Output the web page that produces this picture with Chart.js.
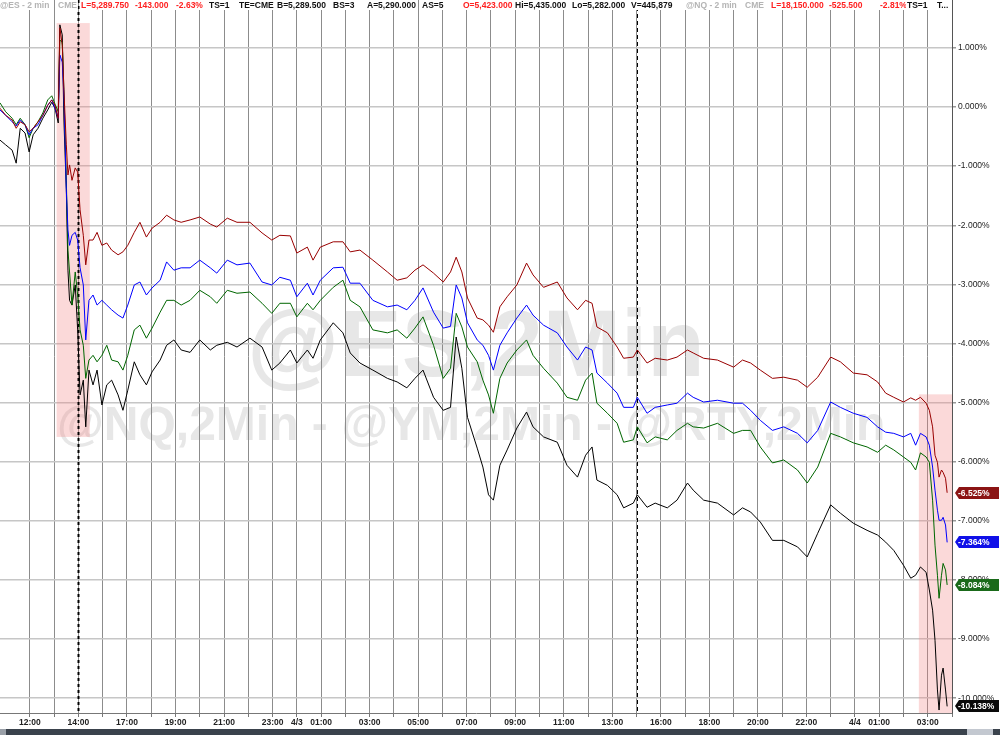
<!DOCTYPE html>
<html>
<head>
<meta charset="utf-8">
<script src="https://cdn.jsdelivr.net/npm/chart.js@4.4.1/dist/chart.umd.min.js"></script>
<style>
  html, body { margin: 0; padding: 0; background: #fff; }
  #wrap { width: 1000px; height: 735px; }
</style>
</head>
<body>
<div id="wrap"><canvas id="chart" width="1000" height="735"></canvas></div>
<script>
// --- data: 2-min bars counted from 12:00 on day one, values in % change ---
const bars = [-37,-30,-22,-17,-12,-6,-1,4,10,16,22,27,31,35,37,40,42,45,47,49,52,56,59,62,66,69,73,78,83,89,95,101,109,115,121,129,136,144,151,161,169,178,187,198,210,
  223,231,244,256,272,287,299,309,322,330,343,350,359,375,387,396,408,424,442,454,466,476,486,499,511,520,527,534,541,553,560,567,573,581,590,602,614,622,635,652,664,677,687,695,701,714,726,734,746,751,763,773,788,800,813,820,833,850,870,881,891,903,918,932,949,961,974,990,1002,1018,1035,1048,1058,1068,1080,1089,1095,1101,1108,1112,1116,1119,1122,1124,1127,1129,1132,1134];

const ymPct = [-0.02,-0.14,-0.22,-0.36,-0.25,-0.30,-0.42,-0.36,-0.25,-0.14,0.03,0.12,0.03,-0.19,1.34,1.05,0.29,-0.64,-1.15,-0.98,-1.24,-1.03,-1.10,-1.74,-2.17,-2.67,-2.25,-2.25,-2.12,-2.34,-2.30,-2.42,-2.50,-2.45,-2.34,-2.12,-1.95,-2.20,-2.05,-1.95,-1.83,-1.91,-1.95,-1.91,-1.86,
  -1.98,-2.03,-1.88,-1.95,-1.95,-2.13,-2.25,-2.17,-2.18,-2.47,-2.37,-2.59,-2.37,-2.28,-2.28,-2.45,-2.42,-2.59,-2.79,-2.93,-2.89,-2.76,-2.67,-2.81,-2.96,-2.79,-2.54,-2.79,-3.23,-3.57,-3.60,-3.69,-3.81,-3.38,-3.21,-3.01,-2.64,-2.84,-3.05,-2.96,-3.23,-3.43,-3.27,-3.32,-3.72,-3.82,-4.06,-4.25,-4.23,-4.11,-4.33,-4.25,-4.28,-4.23,-4.11,-4.16,-4.25,-4.28,-4.40,-4.28,-4.33,-4.45,-4.59,-4.57,-4.62,-4.74,-4.57,-4.23,-4.31,-4.50,-4.53,-4.65,-4.84,-4.91,-4.99,-4.92,-4.96,-4.91,-5.01,-5.13,-5.41,-5.89,-6.01,-6.26,-6.14,-6.18,-6.28,-6.525];

const esPct = [-0.05,-0.14,-0.25,-0.32,-0.22,-0.30,-0.47,-0.36,-0.30,-0.14,0.03,0.12,-0.02,-0.19,0.88,0.76,0.20,-1.40,-2.08,-2.34,-2.17,-2.12,-2.25,-2.72,-3.01,-3.94,-3.27,-3.18,-3.35,-3.27,-3.35,-3.43,-3.52,-3.57,-3.35,-3.01,-2.96,-3.18,-3.06,-2.93,-2.62,-2.76,-2.72,-2.72,-2.59,
  -2.72,-2.81,-2.59,-2.67,-2.64,-2.96,-3.01,-2.88,-2.93,-3.21,-2.98,-3.18,-2.93,-2.72,-2.71,-2.98,-2.98,-3.27,-3.38,-3.35,-3.43,-3.27,-3.06,-3.47,-3.74,-3.71,-3.01,-3.23,-3.65,-3.94,-4.03,-4.20,-4.45,-4.03,-3.82,-3.57,-3.35,-3.52,-3.69,-3.82,-4.06,-4.28,-4.06,-4.11,-4.50,-4.67,-4.84,-5.08,-5.08,-4.91,-5.18,-5.08,-5.04,-5.01,-4.84,-4.91,-4.99,-4.96,-5.01,-5.01,-5.13,-5.30,-5.47,-5.41,-5.52,-5.68,-5.47,-4.99,-5.08,-5.18,-5.25,-5.41,-5.50,-5.52,-5.58,-5.52,-5.72,-5.52,-5.58,-5.72,-6.09,-6.48,-6.82,-6.99,-6.99,-6.94,-7.07,-7.364];

const nqPct = [0.07,-0.08,-0.19,-0.30,-0.19,-0.30,-0.52,-0.36,-0.25,-0.10,0.12,0.19,0.05,-0.08,1.13,1.10,0.29,-1.24,-2.42,-2.79,-3.35,-2.79,-3.18,-3.77,-4.03,-4.59,-4.28,-4.20,-4.31,-4.20,-4.03,-4.28,-4.31,-4.45,-4.20,-3.77,-3.69,-3.91,-3.74,-3.47,-3.27,-3.27,-3.35,-3.27,-3.10,
  -3.21,-3.32,-3.10,-3.15,-3.13,-3.32,-3.49,-3.32,-3.32,-3.55,-3.32,-3.43,-3.27,-3.05,-2.93,-3.27,-3.38,-3.77,-3.82,-3.77,-3.91,-3.74,-3.55,-4.03,-4.59,-4.42,-3.49,-3.72,-4.06,-4.31,-4.62,-4.87,-5.18,-4.59,-4.33,-4.11,-3.94,-4.20,-4.42,-4.67,-4.91,-4.96,-4.62,-4.50,-5.01,-5.18,-5.35,-5.67,-5.63,-5.41,-5.68,-5.58,-5.63,-5.47,-5.35,-5.41,-5.43,-5.35,-5.52,-5.47,-5.47,-5.75,-6.02,-5.97,-6.14,-6.36,-6.09,-5.52,-5.58,-5.68,-5.75,-5.84,-5.72,-5.80,-5.92,-6.01,-6.14,-5.85,-5.92,-6.01,-6.65,-7.41,-7.92,-8.31,-7.92,-7.72,-7.83,-8.084];

const rtyPct = [-0.56,-0.64,-0.73,-0.95,-0.36,-0.44,-0.76,-0.47,-0.36,-0.19,-0.05,0.08,-0.02,-0.27,1.39,1.22,-0.22,-1.40,-2.76,-3.27,-3.35,-3.01,-3.77,-4.87,-4.62,-5.41,-4.45,-4.70,-4.45,-5.04,-4.70,-4.62,-4.87,-5.13,-4.79,-4.31,-4.53,-4.70,-4.48,-4.28,-4.03,-3.94,-4.11,-4.15,-3.94,
  -4.11,-4.03,-3.98,-4.06,-3.91,-4.06,-4.45,-4.33,-4.11,-4.33,-4.11,-4.25,-3.94,-3.65,-3.82,-4.16,-4.33,-4.45,-4.59,-4.65,-4.75,-4.59,-4.45,-4.91,-5.13,-5.08,-3.89,-4.42,-5.25,-5.77,-6.09,-6.56,-6.65,-6.06,-5.80,-5.43,-5.16,-5.41,-5.58,-5.67,-6.06,-6.26,-5.89,-5.75,-6.31,-6.40,-6.56,-6.78,-6.70,-6.56,-6.77,-6.70,-6.78,-6.65,-6.36,-6.48,-6.65,-6.70,-6.90,-6.78,-6.85,-7.02,-7.33,-7.33,-7.44,-7.61,-7.21,-6.73,-6.87,-7.04,-7.16,-7.24,-7.36,-7.50,-7.75,-7.97,-7.92,-7.78,-7.87,-8.17,-8.51,-9.02,-9.86,-10.20,-9.61,-9.49,-9.86,-10.138];

// one slot per hour of bars (30 x 2-min), labelled where the original labels them
const slotLabels = ['12:00','','14:00','','17:00','','19:00','','21:00','','23:00','4/3','01:00','','03:00','','05:00','','07:00','','09:00','','11:00','','13:00','','16:00','','18:00','','20:00','','22:00','','4/4','01:00','','03:00',''];
const barsPerSlot = 30;
const yTickValues = [1,0,-1,-2,-3,-4,-5,-6,-7,-8,-9,-10];
const xRange = [-37, 1140];
const yRange = [-10.25, 1.81];

// session breaks and highlighted zones
const sessionBars = [60, 750];
const highlightZones = [
  { from: 33, to: 74, top: 1.42, bottom: -5.58 },
  { from: 1099, to: 1140, top: -4.86, bottom: -10.25 }
];

const seriesDefs = [
  { name: '@YM', values: ymPct,  color: '#990000', box: '#8b1414' },
  { name: '@ES', values: esPct,  color: '#0000ff', box: '#1010e8' },
  { name: '@NQ', values: nqPct,  color: '#006600', box: '#1a6a1a' },
  { name: '@RTY', values: rtyPct, color: '#000000', box: '#0a0a0a' }
];

const headerItems = [
  ['@ES - 2 min', 0, '#b4b4b4'], ['CME', 58, '#b4b4b4'],
  ['L=5,289.750', 81, '#ff2020'], ['-143.000', 135, '#ff2020'], ['-2.63%', 176, '#ff2020'],
  ['TS=1', 209, '#111'], ['TE=CME', 239, '#111'], ['B=5,289.500', 277, '#111'], ['BS=3', 333, '#111'],
  ['A=5,290.000', 367, '#111'], ['AS=5', 422, '#111'], ['O=5,423.000', 463, '#ff2020'],
  ['Hi=5,435.000', 515, '#111'], ['Lo=5,282.000', 572, '#111'], ['V=445,879', 631, '#111'],
  ['@NQ - 2 min', 686, '#b4b4b4'], ['CME', 745, '#b4b4b4'],
  ['L=18,150.000', 771, '#ff2020'], ['-525.500', 829, '#ff2020'], ['-2.81%', 880, '#ff2020'],
  ['TS=1', 907, '#111'], ['T...', 937, '#111']
];

const FONT = '"Liberation Sans", Arial, sans-serif';

const decor = {
  id: 'decor',
  beforeDraw(chart) {
    const { ctx, width, height } = chart;
    ctx.save();
    ctx.fillStyle = '#fff';
    ctx.fillRect(0, 0, width, height);
    // watermarks
    ctx.fillStyle = '#e7e7e7';
    ctx.textBaseline = 'alphabetic';
    ctx.textAlign = 'center';
    ctx.font = 'bold 94px ' + FONT;
    ctx.fillText('@ES,2Min', 476, 376);
    ctx.textAlign = 'left';
    ctx.font = 'bold 48px ' + FONT;
    ctx.fillText('@NQ,2Min - @YM,2Min - @RTY,2Min', 57, 440);
    ctx.restore();
  },
  beforeDatasetsDraw(chart) {
    const { ctx, chartArea: a, scales: { x, y } } = chart;
    ctx.save();
    ctx.fillStyle = 'rgba(242,130,130,0.30)';
    highlightZones.forEach(z => {
      const x0 = x.getPixelForValue(z.from), x1 = x.getPixelForValue(z.to);
      const y0 = y.getPixelForValue(z.top), y1 = y.getPixelForValue(z.bottom);
      ctx.fillRect(x0, y0, x1 - x0, y1 - y0);
    });
    ctx.strokeStyle = '#000';
    sessionBars.forEach((b, i) => {
      const px = Math.round(x.getPixelForValue(b)) + 0.5;
      ctx.lineWidth = i === 0 ? 2 : 1;
      ctx.setLineDash(i === 0 ? [3, 3] : [4, 3]);
      ctx.beginPath();
      ctx.moveTo(px, 0);
      ctx.lineTo(px, a.bottom);
      ctx.stroke();
    });
    ctx.restore();
  },
  afterDraw(chart) {
    const { ctx, width, height, scales: { y } } = chart;
    ctx.save();
    // header line
    ctx.font = 'bold 8.5px ' + FONT;
    ctx.textBaseline = 'alphabetic';
    ctx.textAlign = 'left';
    headerItems.forEach(([t, hx, c]) => {
      const w = ctx.measureText(t).width;
      ctx.fillStyle = '#fff';
      ctx.fillRect(hx - 1, 0, w + 2, 10);
      ctx.fillStyle = c;
      ctx.fillText(t, hx, 8);
    });
    // last-value tags on the price axis
    ctx.font = 'bold 8.5px ' + FONT;
    ctx.textBaseline = 'middle';
    seriesDefs.forEach(s => {
      const v = s.values[s.values.length - 1];
      const cy = Math.round(y.getPixelForValue(v));
      const x0 = 955, x1 = 999, h = 6;
      ctx.fillStyle = s.box;
      ctx.beginPath();
      ctx.moveTo(x0, cy);
      ctx.lineTo(x0 + 4, cy - h);
      ctx.lineTo(x1, cy - h);
      ctx.lineTo(x1, cy + h);
      ctx.lineTo(x0 + 4, cy + h);
      ctx.closePath();
      ctx.fill();
      ctx.fillStyle = '#fff';
      ctx.fillText(v.toFixed(3) + '%', x0 + 3, cy + 0.5);
    });
    // scrollbar strip at the bottom
    ctx.fillStyle = '#3a424c';
    ctx.fillRect(0, height - 6, width, 6);
    ctx.fillStyle = '#9aa0a8';
    ctx.fillRect(0, height - 6, 6, 6);
    ctx.fillStyle = '#c3c8d0';
    ctx.fillRect(967, height - 6, 26, 6);
    ctx.restore();
  }
};

const ctx = document.getElementById('chart').getContext('2d');
new Chart(ctx, {
  type: 'line',
  data: {
    datasets: seriesDefs.map(s => ({
      label: s.name,
      data: bars.map((b, i) => ({ x: b, y: s.values[i] })),
      borderColor: s.color,
      borderWidth: 1,
      pointRadius: 0,
      tension: 0,
      fill: false
    }))
  },
  options: {
    responsive: false,
    animation: false,
    layout: { padding: { left: 0, top: 0, right: 0, bottom: 6 }, autoPadding: false },
    plugins: { legend: { display: false }, tooltip: { enabled: false } },
    scales: {
      x: {
        type: 'linear',
        position: 'bottom',
        min: xRange[0],
        max: xRange[1],
        afterBuildTicks: axis => { axis.ticks = slotLabels.map((_, i) => ({ value: i * barsPerSlot })); },
        afterFit: axis => { axis.height = 16; axis.paddingLeft = 0; axis.paddingRight = 0; },
        grid: { color: '#8c8c8c', lineWidth: 1, tickLength: 4, tickColor: '#777' },
        border: { color: '#777' },
        ticks: {
          autoSkip: false,
          maxRotation: 0,
          padding: 1,
          color: '#222',
          font: { family: FONT, size: 8.5, weight: 'bold' },
          callback: v => slotLabels[Math.round(v / barsPerSlot)] || ''
        }
      },
      y: {
        position: 'right',
        min: yRange[0],
        max: yRange[1],
        afterBuildTicks: axis => { axis.ticks = yTickValues.map(v => ({ value: v })); },
        afterFit: axis => { axis.width = 48; axis.paddingTop = 0; axis.paddingBottom = 0; },
        grid: { color: '#c6c6c6', lineWidth: 1.5, tickLength: 4, tickColor: '#999' },
        border: { color: '#555' },
        ticks: {
          padding: 2,
          color: '#222',
          font: { family: FONT, size: 8.5 },
          callback: v => v.toFixed(3) + '%'
        }
      }
    }
  },
  plugins: [decor]
});
</script>
</body>
</html>
